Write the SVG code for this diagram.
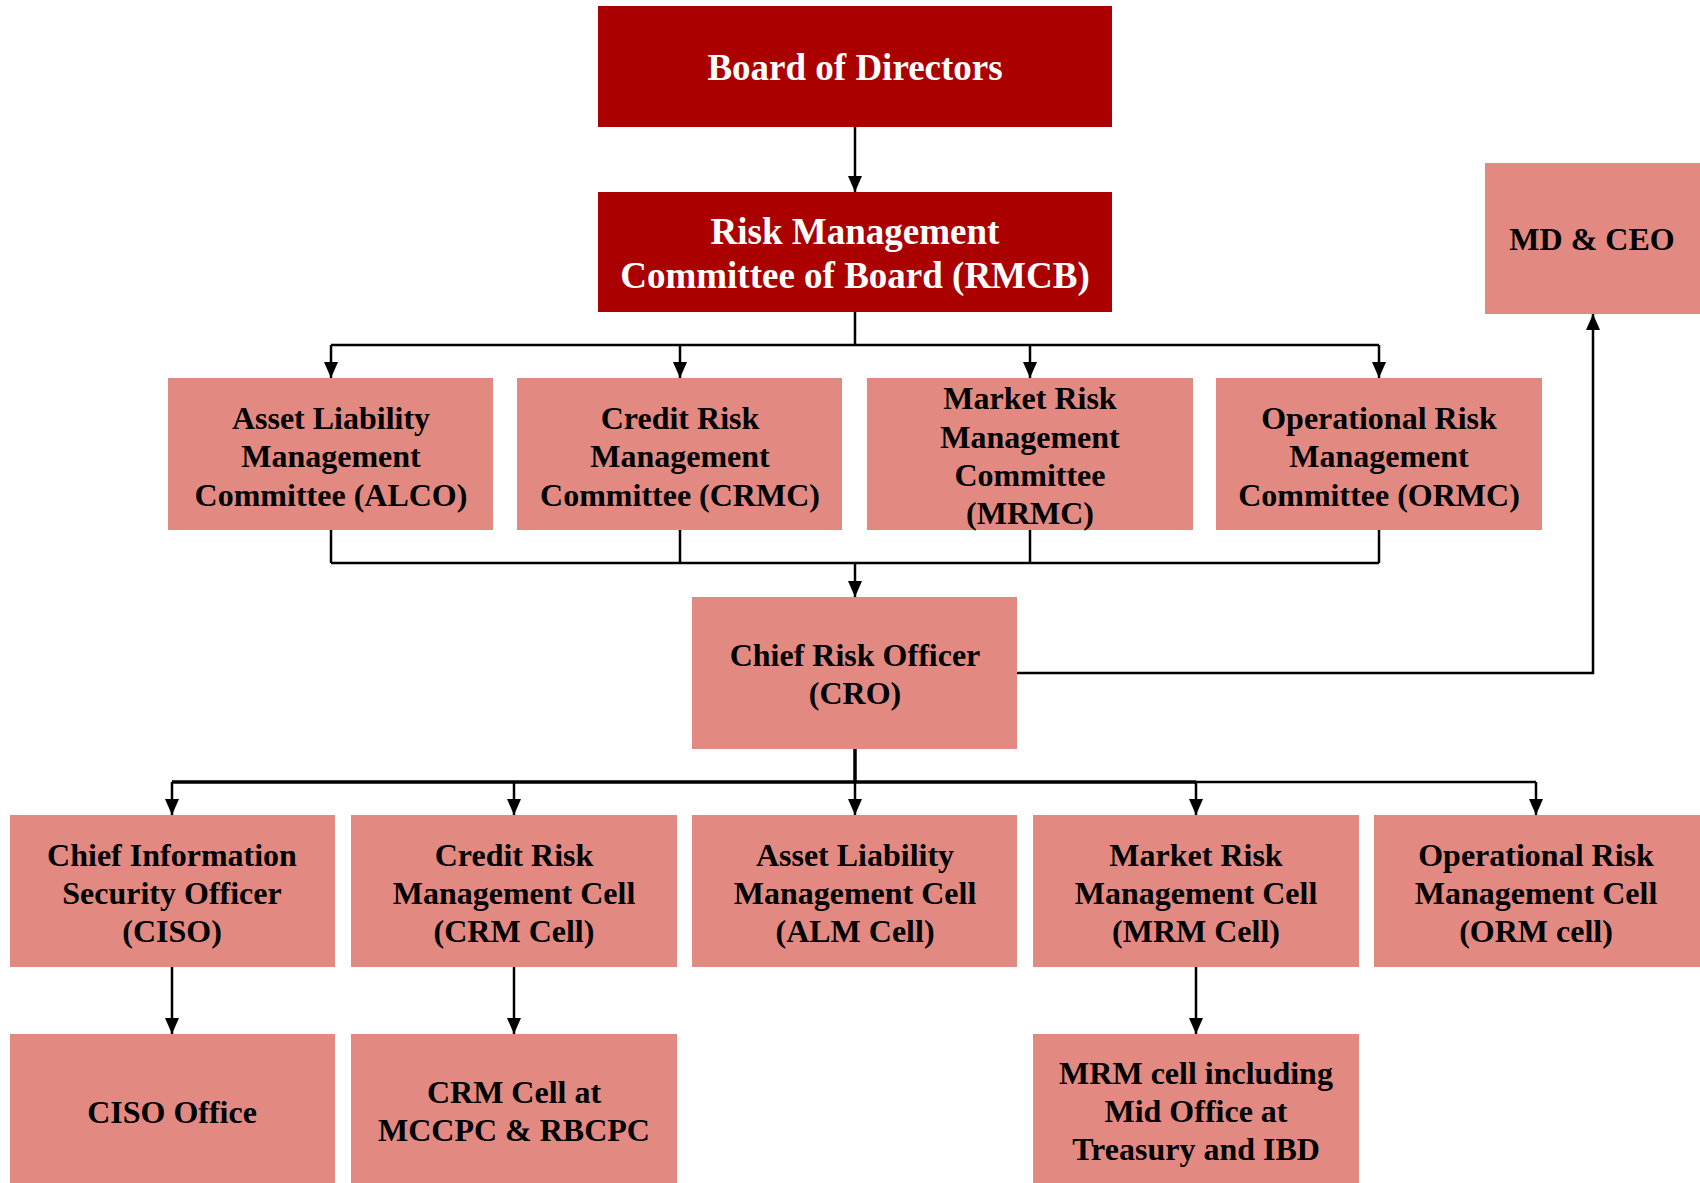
<svg xmlns="http://www.w3.org/2000/svg" width="1700" height="1183" viewBox="0 0 1700 1183">
<style>
.dark{fill:#AA0000}
.pink{fill:#E28A82}
text{font-family:"Liberation Serif","Times New Roman",serif;font-weight:bold;text-anchor:middle}
.tw{fill:#FFFFFF;font-size:37px}
.tb{fill:#000000;font-size:32px}
.ln{fill:none;stroke:#000;stroke-width:2.5}
.lt{fill:none;stroke:#000;stroke-width:3.5}
</style>
<defs>
<marker id="arr" viewBox="0 0 16 14" refX="16" refY="7" markerWidth="16" markerHeight="14" markerUnits="userSpaceOnUse" orient="auto">
<path d="M0,0 L16,7 L0,14 z" fill="#000"/>
</marker>
</defs>
<rect width="1700" height="1183" fill="#FFFFFF"/>

<g id="connectors">
<path class="ln" d="M855,127 V192" marker-end="url(#arr)"/>
<path class="ln" d="M855,312 V345 M331,345 H1379"/>
<path class="ln" d="M331,345 V378" marker-end="url(#arr)"/>
<path class="ln" d="M680,345 V378" marker-end="url(#arr)"/>
<path class="ln" d="M1030,345 V378" marker-end="url(#arr)"/>
<path class="ln" d="M1379,345 V378" marker-end="url(#arr)"/>
<path class="ln" d="M331,530 V563 M680,530 V563 M1030,530 V563 M1379,530 V563 M331,563 H1379"/>
<path class="ln" d="M855,563 V597" marker-end="url(#arr)"/>
<path class="ln" d="M1017,673 H1593 V314" marker-end="url(#arr)"/>
<path class="lt" d="M855,749 V782 M172,782 H1196"/>
<path class="ln" d="M1196,782 H1536"/>
<path class="ln" d="M172,782 V815" marker-end="url(#arr)"/>
<path class="ln" d="M514,782 V815" marker-end="url(#arr)"/>
<path class="ln" d="M855,782 V815" marker-end="url(#arr)"/>
<path class="ln" d="M1196,782 V815" marker-end="url(#arr)"/>
<path class="ln" d="M1536,782 V815" marker-end="url(#arr)"/>
<path class="ln" d="M172,967 V1034" marker-end="url(#arr)"/>
<path class="ln" d="M514,967 V1034" marker-end="url(#arr)"/>
<path class="ln" d="M1196,967 V1034" marker-end="url(#arr)"/>
</g>

<g id="board">
<rect class="dark" x="598" y="6" width="514" height="121"/>
<text class="tw" x="855" y="80">Board of Directors</text>
</g>
<g id="rmcb">
<rect class="dark" x="598" y="192" width="514" height="120"/>
<text class="tw" x="855" y="244">Risk Management</text>
<text class="tw" x="855" y="288">Committee of Board (RMCB)</text>
</g>
<g id="mdceo">
<rect class="pink" x="1485" y="163" width="215" height="151"/>
<text class="tb" x="1592" y="250">MD &amp; CEO</text>
</g>
<g id="alco">
<rect class="pink" x="168" y="378" width="325" height="152"/>
<text class="tb" x="331" y="429">Asset Liability</text>
<text class="tb" x="331" y="467">Management</text>
<text class="tb" x="331" y="506">Committee (ALCO)</text>
</g>
<g id="crmc">
<rect class="pink" x="517" y="378" width="325" height="152"/>
<text class="tb" x="680" y="429">Credit Risk</text>
<text class="tb" x="680" y="467">Management</text>
<text class="tb" x="680" y="506">Committee (CRMC)</text>
</g>
<g id="mrmc">
<rect class="pink" x="867" y="378" width="326" height="152"/>
<text class="tb" x="1030" y="409">Market Risk</text>
<text class="tb" x="1030" y="448">Management</text>
<text class="tb" x="1030" y="486">Committee</text>
<text class="tb" x="1030" y="524">(MRMC)</text>
</g>
<g id="ormc">
<rect class="pink" x="1216" y="378" width="326" height="152"/>
<text class="tb" x="1379" y="429">Operational Risk</text>
<text class="tb" x="1379" y="467">Management</text>
<text class="tb" x="1379" y="506">Committee (ORMC)</text>
</g>
<g id="cro">
<rect class="pink" x="692" y="597" width="325" height="152"/>
<text class="tb" x="855" y="666">Chief Risk Officer</text>
<text class="tb" x="855" y="704">(CRO)</text>
</g>
<g id="ciso">
<rect class="pink" x="10" y="815" width="325" height="152"/>
<text class="tb" x="172" y="866">Chief Information</text>
<text class="tb" x="172" y="904">Security Officer</text>
<text class="tb" x="172" y="942">(CISO)</text>
</g>
<g id="crmcell">
<rect class="pink" x="351" y="815" width="326" height="152"/>
<text class="tb" x="514" y="866">Credit Risk</text>
<text class="tb" x="514" y="904">Management Cell</text>
<text class="tb" x="514" y="942">(CRM Cell)</text>
</g>
<g id="almcell">
<rect class="pink" x="692" y="815" width="325" height="152"/>
<text class="tb" x="855" y="866">Asset Liability</text>
<text class="tb" x="855" y="904">Management Cell</text>
<text class="tb" x="855" y="942">(ALM Cell)</text>
</g>
<g id="mrmcell">
<rect class="pink" x="1033" y="815" width="326" height="152"/>
<text class="tb" x="1196" y="866">Market Risk</text>
<text class="tb" x="1196" y="904">Management Cell</text>
<text class="tb" x="1196" y="942">(MRM Cell)</text>
</g>
<g id="ormcell">
<rect class="pink" x="1374" y="815" width="326" height="152"/>
<text class="tb" x="1536" y="866">Operational Risk</text>
<text class="tb" x="1536" y="904">Management Cell</text>
<text class="tb" x="1536" y="942">(ORM cell)</text>
</g>
<g id="cisooffice">
<rect class="pink" x="10" y="1034" width="325" height="149"/>
<text class="tb" x="172" y="1123">CISO Office</text>
</g>
<g id="crmcellat">
<rect class="pink" x="351" y="1034" width="326" height="149"/>
<text class="tb" x="514" y="1103">CRM Cell at</text>
<text class="tb" x="514" y="1141">MCCPC &amp; RBCPC</text>
</g>
<g id="mrmmid">
<rect class="pink" x="1033" y="1034" width="326" height="149"/>
<text class="tb" x="1196" y="1084">MRM cell including</text>
<text class="tb" x="1196" y="1122">Mid Office at</text>
<text class="tb" x="1196" y="1160">Treasury and IBD</text>
</g>
</svg>
